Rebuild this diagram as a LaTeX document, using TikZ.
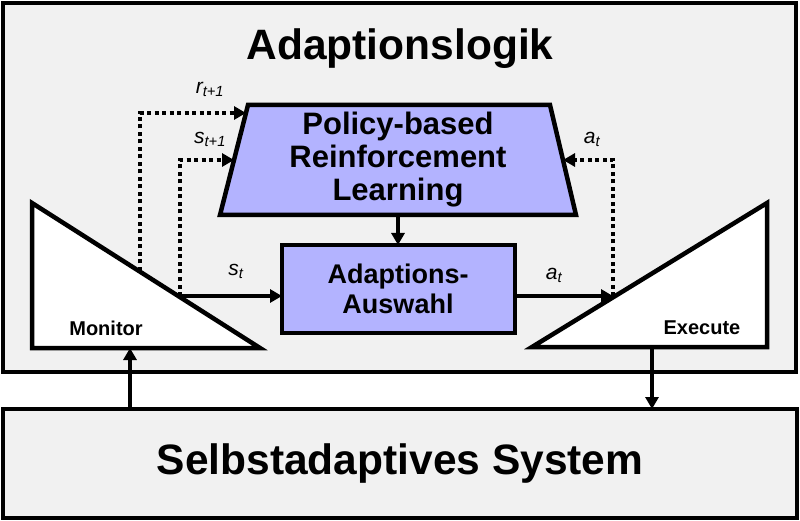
\documentclass[tikz,border=0pt]{standalone}
\usepackage{fontspec}
\setmainfont{Liberation Sans}
\usetikzlibrary{arrows.meta}
\definecolor{bggrey}{HTML}{F1F1F1}
\definecolor{lav}{HTML}{B3B3FF}
\begin{document}
\begin{tikzpicture}[x=1pt,y=-1pt,
  frame/.style={draw=black, line width=4.5pt, fill=bggrey},
  shapebox/.style={draw=black, line width=4.5pt},
  arr/.style={line width=3.6pt, -{Triangle[length=12pt,width=13pt]}},
  dotarr/.style={line width=4.2pt, dash pattern=on 4pt off 3.5pt, -{Triangle[length=12pt,width=13pt]}},
  lbl/.style={inner sep=0pt, font=\fontsize{21}{21}\selectfont\itshape},
  bigtxt/.style={inner sep=0pt, font=\fontsize{42.5}{42.5}\selectfont\bfseries}]
\useasboundingbox (0,0) rectangle (800,521);
% frames
\draw[frame] (3,3) rectangle (796,372);
\draw[frame] (3,409) rectangle (797,518);
\node[bigtxt] (title) at (400,49) {Adaptionslogik};
\node[bigtxt] (sys) at (400,464) {Selbstadaptives System};
% monitor / execute triangles
\draw[shapebox, fill=white] (32,203) -- (32,348) -- (260,348) -- cycle;
\draw[shapebox, fill=white] (532,347) -- (767,203) -- (767,347) -- cycle;
\node[inner sep=0pt, font=\fontsize{20}{20}\selectfont\bfseries] (mon) at (106,328) {Monitor};
\node[inner sep=0pt, font=\fontsize{20}{20}\selectfont\bfseries] (exe) at (702,328) {Execute};
% RL trapezoid
\draw[shapebox, fill=lav] (248,105) -- (550,105) -- (576,215) -- (220,215) -- cycle;
\node[inner sep=0pt, align=center, font=\fontsize{31}{33}\selectfont\bfseries] (rl) at (398,160) {Policy-based\\Reinforcement\\Learning};
% selection box
\draw[shapebox, fill=lav] (282,245) rectangle (515,333);
\node[inner sep=0pt, align=center, font=\fontsize{27}{30}\selectfont\bfseries] (sel) at (398,289) {Adaptions-\\Auswahl};
% coordinates
\coordinate (trapB) at (398,215);
\coordinate (selT) at (398,245);
\coordinate (selL) at (282,296);
\coordinate (selR) at (515,296);
\coordinate (monS) at (180,296);
\coordinate (monR) at (140,271);
\coordinate (exeA) at (613,296);
\coordinate (rlR) at (246,113);
\coordinate (rlS) at (234,160);
\coordinate (rlA) at (563,160);
\coordinate (sysM) at (130,409);
\coordinate (monB) at (130,348);
\coordinate (exeB) at (652,348);
\coordinate (sysE) at (652,409);
% connectors
\draw[arr] (trapB) -- (selT);
\draw[arr] (monS) -- (selL);
\draw[arr] (selR) -- (exeA);
\draw[arr] (sysM) -- (monB);
\draw[arr] (exeB) -- (sysE);
\draw[dotarr] (monR) |- (rlR);
\draw[dotarr] (monS) |- (rlS);
\draw[dotarr] (exeA) |- (rlA);
% labels
\node[lbl] (lr) at (210,89) {r\textsubscript{t+1}};
\node[lbl] (ls1) at (210,139) {s\textsubscript{t+1}};
\node[lbl] (ls) at (236,271) {s\textsubscript{t}};
\node[lbl] (la) at (554,275) {a\textsubscript{t}};
\node[lbl] (la2) at (592,139) {a\textsubscript{t}};
\end{tikzpicture}
\end{document}
